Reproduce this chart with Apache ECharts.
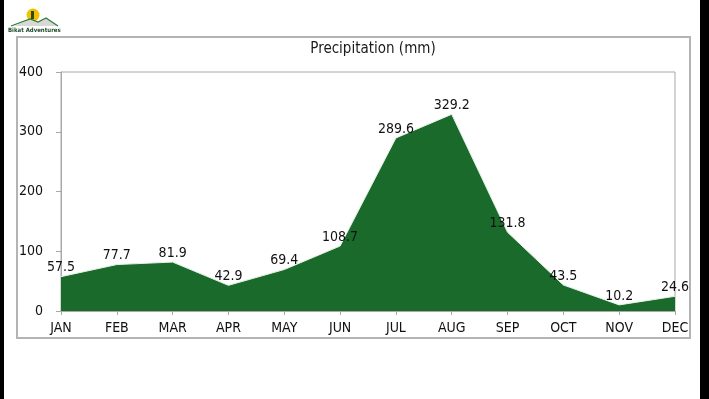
<!DOCTYPE html>
<html>
<head>
<meta charset="utf-8">
<script src="https://cdn.jsdelivr.net/npm/echarts@6/dist/echarts.min.js"></script>
<style>
html,body{margin:0;padding:0;background:#fff;}
#c{width:709px;height:399px;}
</style>
</head>
<body>
<div id="c"></div>
<script>
const months = ['JAN','FEB','MAR','APR','MAY','JUN','JUL','AUG','SEP','OCT','NOV','DEC'];
const precipitation = [57.5, 77.7, 81.9, 42.9, 69.4, 108.7, 289.6, 329.2, 131.8, 43.5, 10.2, 24.6];
const yTicks = [0, 100, 200, 300, 400];
const titleText = 'Precipitation (mm)';
const logoText = 'Bikat Adventures';

const FONT = '"DejaVu Sans Condensed", "DejaVu Sans", sans-serif';
const chart = echarts.init(document.getElementById('c'), null, {renderer: 'canvas'});
chart.setOption({
  backgroundColor: '#fff',
  animation: false,
  title: {
    text: titleText, left: 368, top: 37, textAlign: 'center',
    textStyle: {fontFamily: FONT, fontSize: 15, fontWeight: 'normal', color: '#1a1a1a'}
  },
  grid: {left: 61, right: 34, top: 72, bottom: 88, show: true, borderColor: '#a8a8a8', borderWidth: 1},
  xAxis: {
    type: 'category', data: months, boundaryGap: false,
    axisLine: {lineStyle: {color: '#a8a8a8', width: 1}},
    axisTick: {show: true, length: 4, lineStyle: {color: '#a8a8a8'}},
    axisLabel: {fontFamily: FONT, fontSize: 14, color: '#111', margin: 10, interval: 0}
  },
  yAxis: {
    type: 'value', min: yTicks[0], max: yTicks[yTicks.length - 1], interval: 100,
    splitLine: {show: false},
    axisLine: {show: true, lineStyle: {color: '#a8a8a8'}},
    axisTick: {show: true, length: 5, lineStyle: {color: '#a8a8a8'}},
    axisLabel: {fontFamily: FONT, fontSize: 14, color: '#111', margin: 18}
  },
  series: [{
    type: 'line', data: precipitation, symbol: 'circle', symbolSize: 2, showSymbol: true,
    itemStyle: {color: 'rgba(0,0,0,0)', borderWidth: 0},
    lineStyle: {color: '#e6f2e6', width: 1},
    areaStyle: {color: '#1a6a2c', opacity: 1},
    label: {show: true, position: 'top', distance: 1, fontFamily: FONT, fontSize: 14, color: '#111'},
    labelLayout: {hideOverlap: false}
  }],
  graphic: [
    {type: 'rect', shape: {x: 0, y: 0, width: 4, height: 399}, style: {fill: '#000'}, z: 100},
    {type: 'rect', shape: {x: 700, y: 0, width: 9, height: 399}, style: {fill: '#000'}, z: 100},
    {type: 'rect', shape: {x: 17, y: 37, width: 673, height: 301}, style: {fill: 'none', stroke: '#b4b4b4', lineWidth: 2}, z: 0},
    {type: 'circle', shape: {cx: 33, cy: 15, r: 6.5}, style: {fill: '#f2c200'}, z: 100},
    {type: 'polygon', shape: {points: [[14,26],[30,19],[38,22],[46,18],[58,26]]}, style: {fill: '#d8d8d8'}, z: 100},
    {type: 'polyline', shape: {points: [[11,26],[30,19],[38,22],[46,18],[58,26]]}, style: {stroke: '#2e7d32', lineWidth: 1.2, fill: 'none'}, z: 101},
    {type: 'rect', shape: {x: 31, y: 11, width: 3, height: 8}, style: {fill: '#2a4a1a'}, z: 101},
    {type: 'text', style: {text: logoText, x: 8, y: 27, fontFamily: FONT, fontSize: 6, fontWeight: 'bold', fill: '#1d4a2a'}, z: 100}
  ]
});
</script>
</body>
</html>
